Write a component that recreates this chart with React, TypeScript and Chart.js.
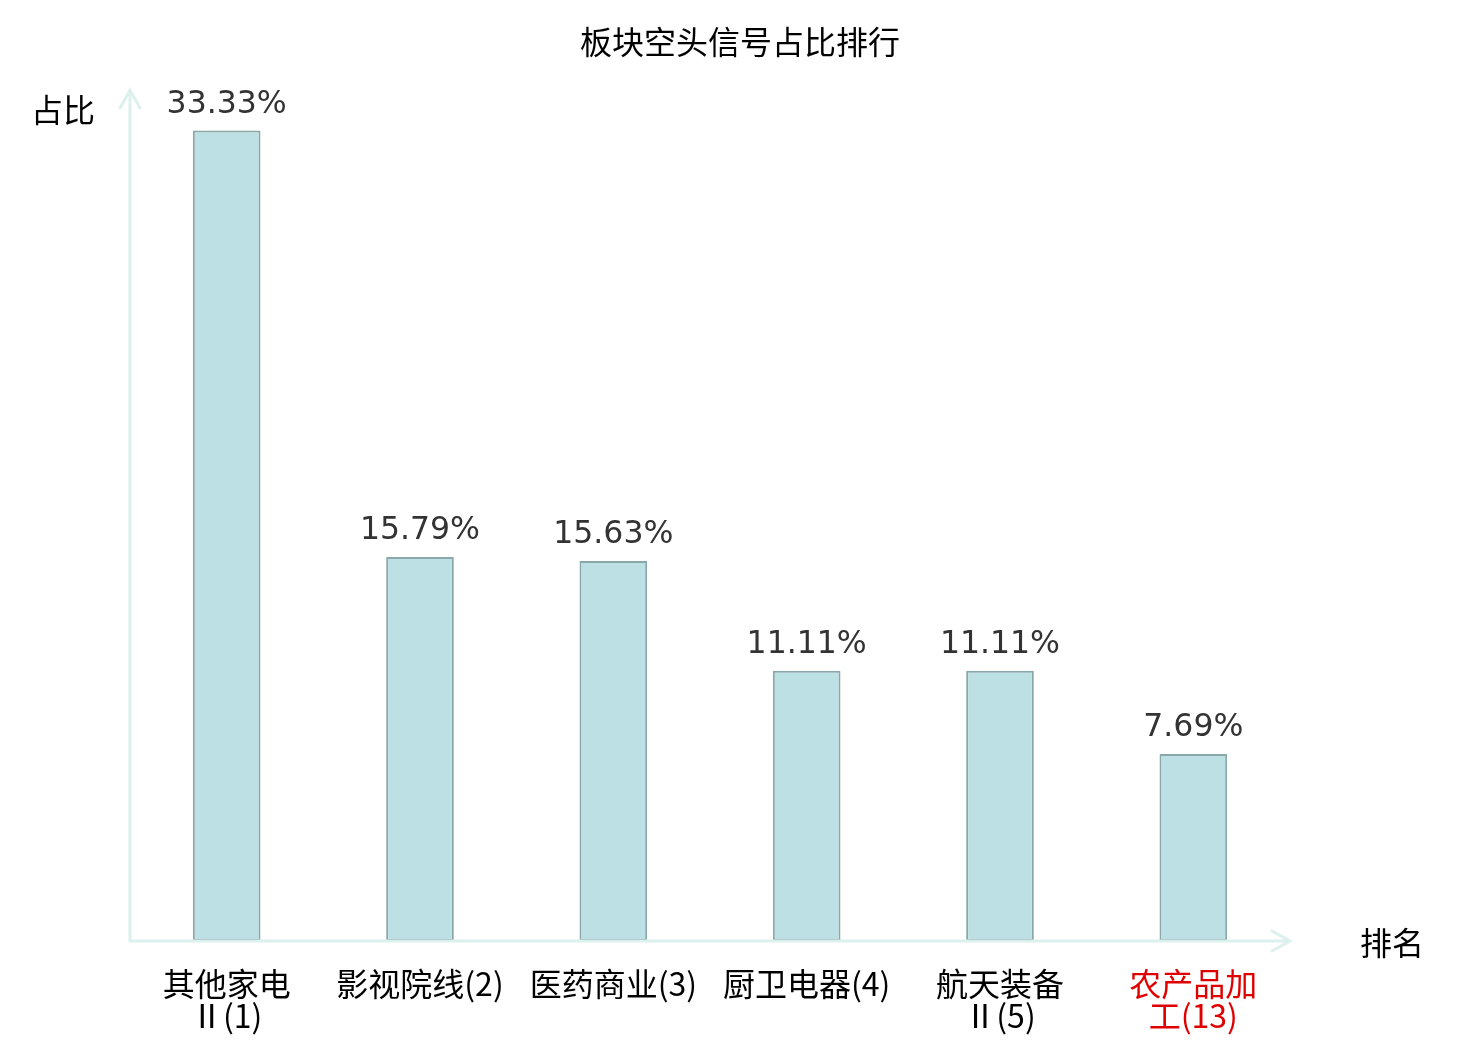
import React, { useEffect, useRef } from "react";
import { Chart, registerables } from "chart.js";

Chart.register(...registerables);

const title = "板块空头信号占比排行";
const categories: string[][] = [
  ["其他家电", "Ⅱ(1)"],
  ["影视院线(2)"],
  ["医药商业(3)"],
  ["厨卫电器(4)"],
  ["航天装备", "Ⅱ(5)"],
  ["农产品加", "工(13)"],
];
const shares = [33.33, 15.79, 15.63, 11.11, 11.11, 7.69];
const highlightIndex = 5;
const yLabel = "占比";
const xLabel = "排名";

const CJK = '"Noto Sans CJK SC", "DejaVu Sans", sans-serif';
const AXIS = "#dcf1ee";

const decorPlugin = {
  id: "decor",
  afterDraw(chart: any) {
    const { ctx, chartArea } = chart;
    const { left, right, top, bottom } = chartArea;
    ctx.save();
    // axes with arrows
    ctx.strokeStyle = AXIS;
    ctx.lineWidth = 3;
    ctx.lineCap = "round";
    ctx.beginPath();
    ctx.moveTo(left, bottom);
    ctx.lineTo(left, top);
    ctx.moveTo(left - 10, top + 18);
    ctx.lineTo(left, top);
    ctx.lineTo(left + 10, top + 18);
    ctx.moveTo(left, bottom);
    ctx.lineTo(right, bottom);
    ctx.moveTo(right - 18, bottom - 10);
    ctx.lineTo(right, bottom);
    ctx.lineTo(right - 18, bottom + 10);
    ctx.stroke();

    // value labels
    const meta = chart.getDatasetMeta(0);
    ctx.fillStyle = "#333333";
    ctx.font = '31.5px "DejaVu Sans", sans-serif';
    ctx.textAlign = "center";
    ctx.textBaseline = "alphabetic";
    meta.data.forEach((bar: any, i: number) => {
      ctx.fillText(shares[i].toFixed(2) + "%", bar.x, bar.y - 18);
    });

    // title and axis names
    ctx.fillStyle = "#000000";
    ctx.font = "32px " + CJK;
    ctx.textBaseline = "middle";
    ctx.fillText(title, chart.width / 2, 42);
    ctx.fillText(yLabel, left - 67, top + 20);
    ctx.fillText(xLabel, right + 102, bottom + 2);
    ctx.restore();
  },
};

const App = () => {
  const ref = useRef<HTMLCanvasElement | null>(null);

  useEffect(() => {
    if (!ref.current) return;
    const chart = new Chart(ref.current, {
      type: "bar",
      data: {
        labels: categories,
        datasets: [
          {
            data: shares,
            backgroundColor: "#bce0e3",
            borderColor: "#8aa7a9",
            borderWidth: 2,
            borderSkipped: false,
            categoryPercentage: 1,
            barPercentage: 0.35,
          },
        ],
      },
      options: {
        animation: false,
        responsive: false,
        layout: { padding: { left: 130, right: 190, top: 90, bottom: -19 } },
        plugins: { legend: { display: false }, tooltip: { enabled: false } },
        scales: {
          x: {
            grid: { display: false, drawTicks: false },
            border: { display: false },
            ticks: {
              padding: 27,
              maxRotation: 0,
              autoSkip: false,
              font: { family: CJK, size: 32, lineHeight: 1.0 },
              color: (c: any) => (c.index === highlightIndex ? "#e00000" : "#000000"),
            },
          },
          y: { display: false, min: 0, max: 35 },
        },
      },
      plugins: [decorPlugin],
    });
    return () => chart.destroy();
  }, []);

  return (
    <div style={{ position: "absolute", left: 0, top: 0, width: 1480, height: 1040, background: "#fff" }}>
      <canvas ref={ref} width={1480} height={1040} />
    </div>
  );
};

export default App;
